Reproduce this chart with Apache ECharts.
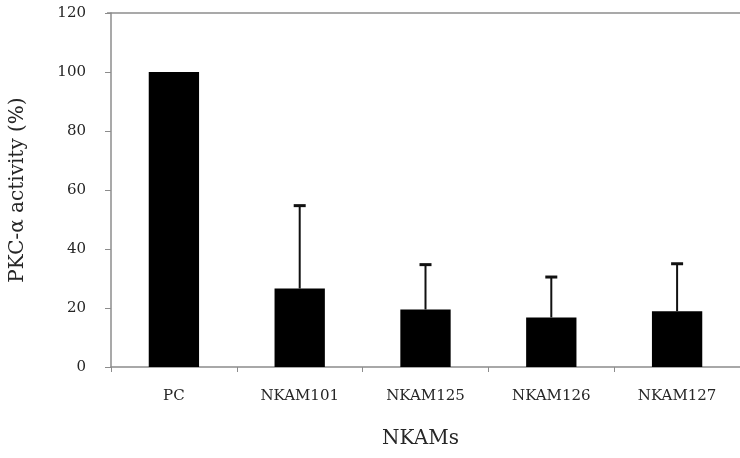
<!DOCTYPE html>
<html>
<head>
<meta charset="utf-8">
<script src="https://cdn.jsdelivr.net/npm/echarts@6/dist/echarts.min.js"></script>
<style>html,body{margin:0;padding:0;background:#fff}#c{width:740px;height:458px}</style>
</head>
<body>
<div id="c"></div>
<script>
const categories = ['PC', 'NKAM101', 'NKAM125', 'NKAM126', 'NKAM127'];
const means = [100, 26.6, 19.5, 16.8, 18.9];
const upperErr = [null, 54.7, 34.7, 30.5, 35.0];
const yTicks = [0, 20, 40, 60, 80, 100, 120];

const chart = echarts.init(document.getElementById('c'));
const FONT = '"DejaVu Serif", "Liberation Serif", serif';
const AX = '#8c8c8c';

chart.setOption({
  animation: false,
  backgroundColor: '#fff',
  grid: { left: 107, right: -9, top: 13, bottom: 91 },
  xAxis: {
    type: 'category',
    data: categories,
    name: 'NKAMs',
    nameLocation: 'middle',
    nameGap: 62,
    nameTextStyle: { fontFamily: FONT, fontSize: 20, color: '#262626', padding: [0, 10, 0, 0] },
    axisLine: { lineStyle: { color: AX, width: 1.5 } },
    axisTick: { show: true, length: 5, lineStyle: { color: AX } },
    axisLabel: { fontFamily: FONT, fontSize: 15, color: '#262626', margin: 22 }
  },
  yAxis: {
    type: 'value',
    min: yTicks[0],
    max: yTicks[yTicks.length - 1],
    interval: 20,
    name: 'PKC-α activity (%)',
    nameLocation: 'middle',
    nameGap: 83,
    nameTextStyle: { fontFamily: FONT, fontSize: 20, color: '#262626' },
    axisLine: { show: true, lineStyle: { color: AX, width: 1.5 } },
    axisTick: { show: true, length: 6, lineStyle: { color: AX } },
    axisLabel: { fontFamily: FONT, fontSize: 15, color: '#262626', margin: 25 },
    splitLine: { show: false }
  },
  graphic: [
    { type: 'line', shape: { x1: 107, y1: 13, x2: 740, y2: 13 }, style: { stroke: AX, lineWidth: 1.5 } }
  ],
  series: [
    {
      type: 'bar',
      data: means,
      barWidth: '40%',
      itemStyle: { color: '#000' },
      z: 2
    },
    {
      type: 'custom',
      z: 3,
      data: categories.map((c, i) => [i, means[i], upperErr[i]]),
      renderItem: function (params, api) {
        const up = api.value(2);
        if (up === null || up === undefined || isNaN(up)) return null;
        const base = api.coord([api.value(0), api.value(1)]);
        const top = api.coord([api.value(0), up]);
        const x = base[0];
        return {
          type: 'group',
          children: [
            { type: 'line', shape: { x1: x, y1: base[1], x2: x, y2: top[1] }, style: { stroke: '#111', lineWidth: 2 } },
            { type: 'line', shape: { x1: x - 6, y1: top[1], x2: x + 6, y2: top[1] }, style: { stroke: '#111', lineWidth: 3 } }
          ]
        };
      }
    }
  ]
});
</script>
</body>
</html>
